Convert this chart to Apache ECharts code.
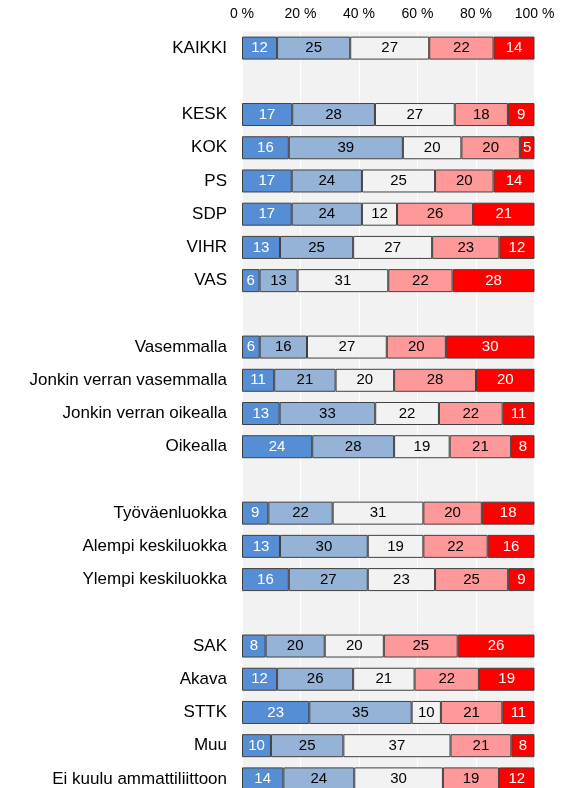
<!DOCTYPE html>
<html>
<head>
<meta charset="utf-8">
<script src="https://cdn.jsdelivr.net/npm/echarts@6/dist/echarts.min.js"></script>
<style>
  html, body { margin: 0; padding: 0; background: #ffffff; }
  #chart { width: 567px; height: 788px; }
</style>
</head>
<body>
<div id="chart"></div>
<script>
// rivit ylhäältä alas, tyhjät rivit ryhmien välissä
var categories = ['KAIKKI', ' ', 'KESK', 'KOK', 'PS', 'SDP', 'VIHR', 'VAS', '  ',
  'Vasemmalla', 'Jonkin verran vasemmalla', 'Jonkin verran oikealla', 'Oikealla', '   ',
  'Työväenluokka', 'Alempi keskiluokka', 'Ylempi keskiluokka', '    ',
  'SAK', 'Akava', 'STTK', 'Muu', 'Ei kuulu ammattiliittoon'];

var darkBlue  = [12, null, 17, 16, 17, 17, 13, 6, null, 6, 11, 13, 24, null, 9, 13, 16, null, 8, 12, 23, 10, 14];
var lightBlue = [25, null, 28, 39, 24, 24, 25, 13, null, 16, 21, 33, 28, null, 22, 30, 27, null, 20, 26, 35, 25, 24];
var middle    = [27, null, 27, 20, 25, 12, 27, 31, null, 27, 20, 22, 19, null, 31, 19, 23, null, 20, 21, 10, 37, 30];
var pink      = [22, null, 18, 20, 20, 26, 23, 22, null, 20, 28, 22, 21, null, 20, 22, 25, null, 25, 22, 21, 21, 19];
var red       = [14, null, 9, 5, 14, 21, 12, 28, null, 30, 20, 11, 8, null, 18, 16, 9, null, 26, 19, 11, 8, 12];

var xTicks = [0, 20, 40, 60, 80, 100];

var rows = [darkBlue, lightBlue, middle, pink, red];
var colors = ['#558ED5', '#95B3D7', '#F2F2F2', '#FF9999', '#FF0000'];
var labelColors = ['#ffffff', '#000000', '#000000', '#000000', '#ffffff'];

// pyöristetyt luvut eivät aina summaudu sataan, palkit venytetään täyteen leveyteen
function total(i) {
  var s = 0;
  rows.forEach(function (r) { s += r[i] || 0; });
  return s;
}

var series = rows.map(function (arr, k) {
  return {
    name: 'sarja' + (k + 1),
    type: 'bar',
    stack: 'all',
    barWidth: 23,
    data: arr.map(function (v, i) {
      return v == null ? null : { value: v / total(i) * 100, raw: v };
    }),
    itemStyle: { color: colors[k], borderColor: '#404040', borderWidth: 1 },
    label: {
      show: true,
      position: 'inside',
      color: labelColors[k],
      fontSize: 15,
      fontFamily: 'Liberation Sans, Arial, sans-serif',
      formatter: function (p) { return p.data.raw; }
    }
  };
});

var chart = echarts.init(document.getElementById('chart'));
chart.setOption({
  animation: false,
  grid: {
    left: 242,
    right: 32.5,
    top: 31.5,
    height: 764,
    outerBoundsMode: 'none',
    show: true,
    backgroundColor: '#F2F2F2',
    borderWidth: 0
  },
  xAxis: {
    type: 'value',
    position: 'top',
    min: xTicks[0],
    max: xTicks[xTicks.length - 1],
    interval: 20,
    axisLine: { show: false },
    axisTick: { show: false },
    splitLine: { show: true, lineStyle: { color: '#ffffff', width: 1 } },
    axisLabel: {
      formatter: '{value} %',
      color: '#000000',
      fontSize: 14,
      margin: 10,
      fontFamily: 'Liberation Sans, Arial, sans-serif'
    }
  },
  yAxis: {
    type: 'category',
    inverse: true,
    data: categories,
    axisLine: { show: false },
    axisTick: { show: false },
    axisLabel: {
      color: '#000000',
      fontSize: 17,
      margin: 15,
      fontFamily: 'Liberation Sans, Arial, sans-serif'
    }
  },
  series: series
});
</script>
</body>
</html>
